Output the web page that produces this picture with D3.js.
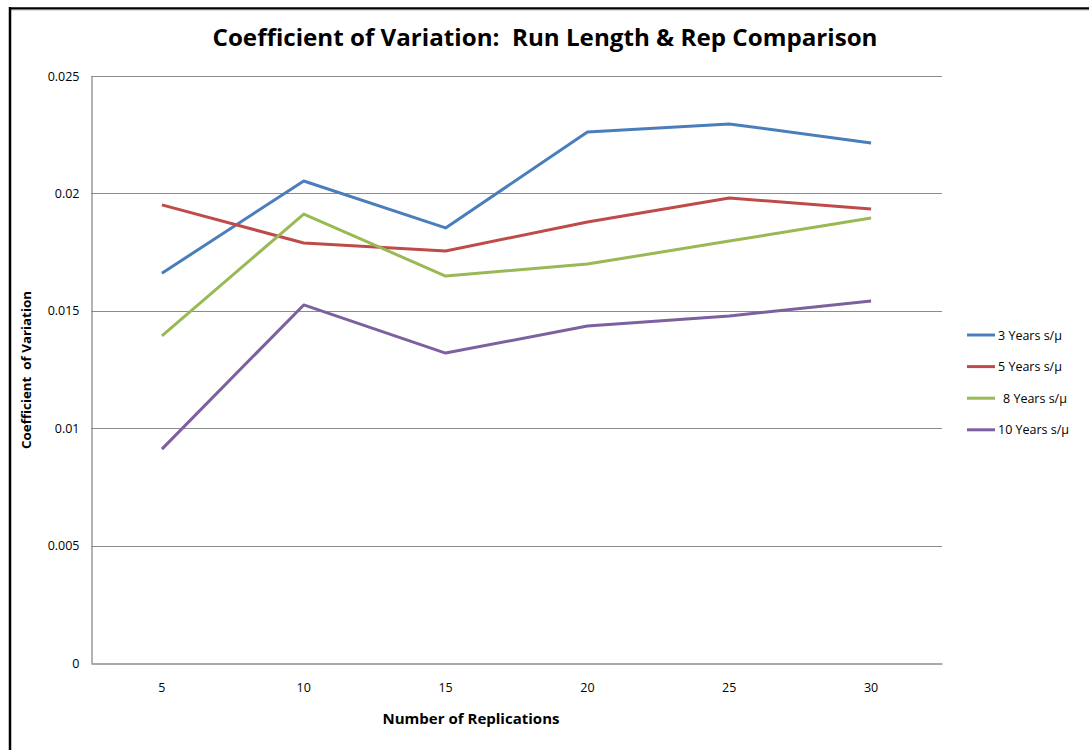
<!DOCTYPE html>
<html><head><meta charset="utf-8">
<script src="https://cdn.jsdelivr.net/npm/d3@7"></script>
<style>body{margin:0;background:#fff;} svg{display:block;} text{font-family:"Open Sans","Liberation Sans",sans-serif;white-space:pre;}</style>
</head><body>
<svg id="c" width="1089" height="750"></svg>
<script>
const categories = [5, 10, 15, 20, 25, 30];
const seriesNames = ["3 Years s/\u03bc", "5 Years s/\u03bc", "8 Years s/\u03bc", "10 Years s/\u03bc"];
const years3 = [0.0166, 0.02053, 0.01853, 0.02261, 0.02296, 0.02215];
const years5 = [0.01951, 0.01789, 0.01755, 0.01878, 0.0198, 0.01934];
const years8 = [0.01393, 0.01912, 0.01648, 0.01699, 0.01797, 0.01895];
const years10 = [0.00911, 0.01525, 0.0132, 0.01435, 0.01478, 0.01542];
const yTicks = [0, 0.005, 0.01, 0.015, 0.02, 0.025];
const yTickLabels = ["0", "0.005", "0.01", "0.015", "0.02", "0.025"];
const colors = ["#4A7EBB", "#BE4B48", "#98B954", "#7D60A0"];
const seriesValues = [years3, years5, years8, years10];

const svg = d3.select("#c");
const L = 91, R = 942, T = 76, B = 663;

// outer border
svg.append("line").attr("x1",10).attr("y1",8.5).attr("x2",1089).attr("y2",8.5).attr("stroke","#000").attr("stroke-width",2.5);
svg.append("line").attr("x1",10).attr("y1",10).attr("x2",1089).attr("y2",10).attr("stroke","#bbb").attr("stroke-width",1);
svg.append("line").attr("x1",10).attr("y1",7).attr("x2",10).attr("y2",750).attr("stroke","#000").attr("stroke-width",2.5);

const x = d3.scaleBand().domain(categories).range([L, R]);
const y = d3.scaleLinear().domain([0, 0.025]).range([B, T]);

// gridlines
svg.append("g").selectAll("line").data(yTicks.filter(d=>d>0)).join("line")
  .attr("x1", L).attr("x2", R).attr("y1", d=>Math.round(y(d))+0.5).attr("y2", d=>Math.round(y(d))+0.5)
  .attr("stroke", "#8c8c8c").attr("stroke-width", 1);

// axes
const yAxis = d3.axisLeft(y).tickValues(yTicks).tickFormat((d,i)=>yTickLabels[i]).tickSize(0).tickPadding(12);
const gy = svg.append("g").attr("transform", `translate(${L+0.5},0)`).call(yAxis);
gy.select(".domain").attr("stroke", "#8c8c8c").attr("stroke-width", 1.3);
gy.selectAll("text").attr("font-size", 12.5).attr("fill", "#000").style("font-family", "'Open Sans',sans-serif");

const xAxis = d3.axisBottom(x).tickSize(0).tickPadding(20);
const gx = svg.append("g").attr("transform", `translate(0,${B+0.5})`).call(xAxis);
gx.select(".domain").attr("stroke", "#8c8c8c").attr("stroke-width", 1.3);
gx.selectAll("text").attr("font-size", 12.5).attr("fill", "#000").style("font-family", "'Open Sans',sans-serif");

// lines
const line = d3.line().x((d,i)=>x(categories[i]) + x.bandwidth()/2).y(d=>y(d));
seriesValues.forEach((vals, k) => {
  svg.append("path").datum(vals).attr("d", line).attr("fill", "none")
    .attr("stroke", colors[k]).attr("stroke-width", 3).attr("stroke-linejoin", "round");
});

// title
svg.append("text").attr("x", 545).attr("y", 46).attr("text-anchor", "middle")
  .attr("font-size", 24).attr("font-weight", "bold").attr("fill", "#000")
  .attr("textLength", 665).attr("lengthAdjust", "spacingAndGlyphs")
  .text("Coefficient of Variation:  Run Length & Rep Comparison");

// axis titles
svg.append("text").attr("x", 471).attr("y", 724).attr("text-anchor", "middle")
  .attr("font-size", 13.5).attr("font-weight", "bold").attr("fill", "#000")
  .attr("textLength", 177).attr("lengthAdjust", "spacingAndGlyphs")
  .text("Number of Replications");
svg.append("text").attr("transform", "translate(31,370) rotate(-90)").attr("text-anchor", "middle")
  .attr("font-size", 12.5).attr("font-weight", "bold").attr("fill", "#000")
  .attr("textLength", 158).attr("lengthAdjust", "spacingAndGlyphs")
  .text("Coefficient  of Variation");

// legend
const lg = svg.append("g");
seriesNames.forEach((n, k) => {
  const yy = 335 + k * 31.6;
  lg.append("line").attr("x1", 967).attr("x2", 995).attr("y1", yy).attr("y2", yy)
    .attr("stroke", colors[k]).attr("stroke-width", 3);
  lg.append("text").attr("x", k===2 ? 1003 : 998).attr("y", yy + 4.5).attr("font-size", 12.5).attr("fill", "#000").text(n);
});
</script>
</body></html>
